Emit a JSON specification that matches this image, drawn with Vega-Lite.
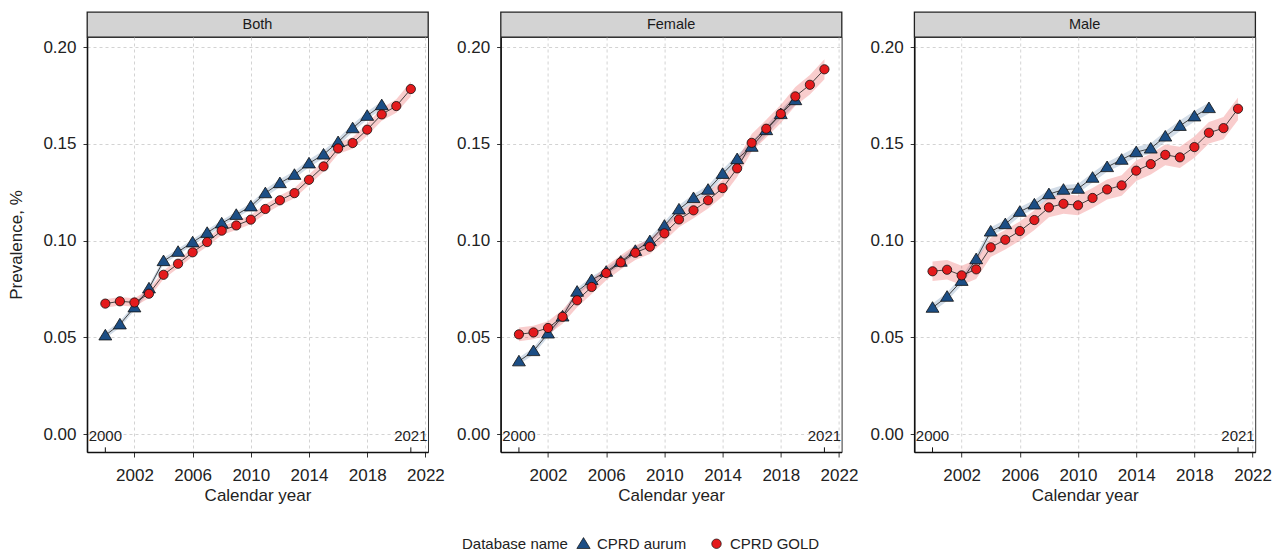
{
  "$schema": "https://vega.github.io/schema/vega-lite/v6.json",
  "padding": {"left": 7, "top": 11, "right": 5, "bottom": 5},
  "background": "white",
  "datasets": {
    "ann": [{"year": 2000, "label": "2000"}, {"year": 2021, "label": "2021"}],
    "prev": [
      {"panel":"Both","db":"CPRD aurum","year":2000,"p":0.0510,"lo":0.0494,"hi":0.0526},
      {"panel":"Both","db":"CPRD aurum","year":2001,"p":0.0567,"lo":0.0551,"hi":0.0583},
      {"panel":"Both","db":"CPRD aurum","year":2002,"p":0.0655,"lo":0.0639,"hi":0.0671},
      {"panel":"Both","db":"CPRD aurum","year":2003,"p":0.0753,"lo":0.0737,"hi":0.0769},
      {"panel":"Both","db":"CPRD aurum","year":2004,"p":0.0894,"lo":0.0878,"hi":0.0910},
      {"panel":"Both","db":"CPRD aurum","year":2005,"p":0.0942,"lo":0.0926,"hi":0.0958},
      {"panel":"Both","db":"CPRD aurum","year":2006,"p":0.0991,"lo":0.0975,"hi":0.1007},
      {"panel":"Both","db":"CPRD aurum","year":2007,"p":0.1040,"lo":0.1024,"hi":0.1056},
      {"panel":"Both","db":"CPRD aurum","year":2008,"p":0.1089,"lo":0.1073,"hi":0.1105},
      {"panel":"Both","db":"CPRD aurum","year":2009,"p":0.1133,"lo":0.1117,"hi":0.1149},
      {"panel":"Both","db":"CPRD aurum","year":2010,"p":0.1177,"lo":0.1161,"hi":0.1193},
      {"panel":"Both","db":"CPRD aurum","year":2011,"p":0.1245,"lo":0.1225,"hi":0.1265},
      {"panel":"Both","db":"CPRD aurum","year":2012,"p":0.1297,"lo":0.1277,"hi":0.1317},
      {"panel":"Both","db":"CPRD aurum","year":2013,"p":0.1340,"lo":0.1320,"hi":0.1360},
      {"panel":"Both","db":"CPRD aurum","year":2014,"p":0.1399,"lo":0.1379,"hi":0.1419},
      {"panel":"Both","db":"CPRD aurum","year":2015,"p":0.1445,"lo":0.1425,"hi":0.1465},
      {"panel":"Both","db":"CPRD aurum","year":2016,"p":0.1509,"lo":0.1489,"hi":0.1529},
      {"panel":"Both","db":"CPRD aurum","year":2017,"p":0.1581,"lo":0.1561,"hi":0.1601},
      {"panel":"Both","db":"CPRD aurum","year":2018,"p":0.1645,"lo":0.1625,"hi":0.1665},
      {"panel":"Both","db":"CPRD aurum","year":2019,"p":0.1700,"lo":0.1680,"hi":0.1720},
      {"panel":"Both","db":"CPRD GOLD","year":2000,"p":0.0674,"lo":0.0652,"hi":0.0696},
      {"panel":"Both","db":"CPRD GOLD","year":2001,"p":0.0686,"lo":0.0664,"hi":0.0708},
      {"panel":"Both","db":"CPRD GOLD","year":2002,"p":0.0680,"lo":0.0658,"hi":0.0702},
      {"panel":"Both","db":"CPRD GOLD","year":2003,"p":0.0725,"lo":0.0703,"hi":0.0747},
      {"panel":"Both","db":"CPRD GOLD","year":2004,"p":0.0823,"lo":0.0801,"hi":0.0845},
      {"panel":"Both","db":"CPRD GOLD","year":2005,"p":0.0880,"lo":0.0858,"hi":0.0902},
      {"panel":"Both","db":"CPRD GOLD","year":2006,"p":0.0939,"lo":0.0917,"hi":0.0961},
      {"panel":"Both","db":"CPRD GOLD","year":2007,"p":0.0992,"lo":0.0969,"hi":0.1015},
      {"panel":"Both","db":"CPRD GOLD","year":2008,"p":0.1051,"lo":0.1028,"hi":0.1074},
      {"panel":"Both","db":"CPRD GOLD","year":2009,"p":0.1078,"lo":0.1054,"hi":0.1102},
      {"panel":"Both","db":"CPRD GOLD","year":2010,"p":0.1108,"lo":0.1084,"hi":0.1132},
      {"panel":"Both","db":"CPRD GOLD","year":2011,"p":0.1163,"lo":0.1138,"hi":0.1188},
      {"panel":"Both","db":"CPRD GOLD","year":2012,"p":0.1208,"lo":0.1183,"hi":0.1233},
      {"panel":"Both","db":"CPRD GOLD","year":2013,"p":0.1245,"lo":0.1219,"hi":0.1271},
      {"panel":"Both","db":"CPRD GOLD","year":2014,"p":0.1314,"lo":0.1287,"hi":0.1341},
      {"panel":"Both","db":"CPRD GOLD","year":2015,"p":0.1383,"lo":0.1355,"hi":0.1411},
      {"panel":"Both","db":"CPRD GOLD","year":2016,"p":0.1476,"lo":0.1447,"hi":0.1505},
      {"panel":"Both","db":"CPRD GOLD","year":2017,"p":0.1504,"lo":0.1474,"hi":0.1534},
      {"panel":"Both","db":"CPRD GOLD","year":2018,"p":0.1573,"lo":0.1542,"hi":0.1604},
      {"panel":"Both","db":"CPRD GOLD","year":2019,"p":0.1652,"lo":0.1619,"hi":0.1685},
      {"panel":"Both","db":"CPRD GOLD","year":2020,"p":0.1695,"lo":0.1660,"hi":0.1730},
      {"panel":"Both","db":"CPRD GOLD","year":2021,"p":0.1783,"lo":0.1745,"hi":0.1821},
      {"panel":"Female","db":"CPRD aurum","year":2000,"p":0.0376,"lo":0.0358,"hi":0.0394},
      {"panel":"Female","db":"CPRD aurum","year":2001,"p":0.0429,"lo":0.0411,"hi":0.0447},
      {"panel":"Female","db":"CPRD aurum","year":2002,"p":0.0520,"lo":0.0502,"hi":0.0538},
      {"panel":"Female","db":"CPRD aurum","year":2003,"p":0.0608,"lo":0.0590,"hi":0.0626},
      {"panel":"Female","db":"CPRD aurum","year":2004,"p":0.0736,"lo":0.0718,"hi":0.0754},
      {"panel":"Female","db":"CPRD aurum","year":2005,"p":0.0796,"lo":0.0778,"hi":0.0814},
      {"panel":"Female","db":"CPRD aurum","year":2006,"p":0.0839,"lo":0.0820,"hi":0.0858},
      {"panel":"Female","db":"CPRD aurum","year":2007,"p":0.0891,"lo":0.0872,"hi":0.0910},
      {"panel":"Female","db":"CPRD aurum","year":2008,"p":0.0947,"lo":0.0928,"hi":0.0966},
      {"panel":"Female","db":"CPRD aurum","year":2009,"p":0.0997,"lo":0.0977,"hi":0.1017},
      {"panel":"Female","db":"CPRD aurum","year":2010,"p":0.1077,"lo":0.1057,"hi":0.1097},
      {"panel":"Female","db":"CPRD aurum","year":2011,"p":0.1161,"lo":0.1140,"hi":0.1182},
      {"panel":"Female","db":"CPRD aurum","year":2012,"p":0.1220,"lo":0.1199,"hi":0.1241},
      {"panel":"Female","db":"CPRD aurum","year":2013,"p":0.1263,"lo":0.1241,"hi":0.1285},
      {"panel":"Female","db":"CPRD aurum","year":2014,"p":0.1345,"lo":0.1323,"hi":0.1367},
      {"panel":"Female","db":"CPRD aurum","year":2015,"p":0.1421,"lo":0.1398,"hi":0.1444},
      {"panel":"Female","db":"CPRD aurum","year":2016,"p":0.1485,"lo":0.1461,"hi":0.1509},
      {"panel":"Female","db":"CPRD aurum","year":2017,"p":0.1571,"lo":0.1547,"hi":0.1595},
      {"panel":"Female","db":"CPRD aurum","year":2018,"p":0.1654,"lo":0.1630,"hi":0.1678},
      {"panel":"Female","db":"CPRD aurum","year":2019,"p":0.1726,"lo":0.1701,"hi":0.1751},
      {"panel":"Female","db":"CPRD GOLD","year":2000,"p":0.0515,"lo":0.0480,"hi":0.0550},
      {"panel":"Female","db":"CPRD GOLD","year":2001,"p":0.0525,"lo":0.0490,"hi":0.0560},
      {"panel":"Female","db":"CPRD GOLD","year":2002,"p":0.0548,"lo":0.0513,"hi":0.0583},
      {"panel":"Female","db":"CPRD GOLD","year":2003,"p":0.0606,"lo":0.0570,"hi":0.0642},
      {"panel":"Female","db":"CPRD GOLD","year":2004,"p":0.0691,"lo":0.0655,"hi":0.0727},
      {"panel":"Female","db":"CPRD GOLD","year":2005,"p":0.0760,"lo":0.0724,"hi":0.0796},
      {"panel":"Female","db":"CPRD GOLD","year":2006,"p":0.0832,"lo":0.0795,"hi":0.0869},
      {"panel":"Female","db":"CPRD GOLD","year":2007,"p":0.0887,"lo":0.0850,"hi":0.0924},
      {"panel":"Female","db":"CPRD GOLD","year":2008,"p":0.0937,"lo":0.0899,"hi":0.0975},
      {"panel":"Female","db":"CPRD GOLD","year":2009,"p":0.0968,"lo":0.0930,"hi":0.1006},
      {"panel":"Female","db":"CPRD GOLD","year":2010,"p":0.1037,"lo":0.0998,"hi":0.1076},
      {"panel":"Female","db":"CPRD GOLD","year":2011,"p":0.1109,"lo":0.1069,"hi":0.1149},
      {"panel":"Female","db":"CPRD GOLD","year":2012,"p":0.1156,"lo":0.1115,"hi":0.1197},
      {"panel":"Female","db":"CPRD GOLD","year":2013,"p":0.1208,"lo":0.1166,"hi":0.1250},
      {"panel":"Female","db":"CPRD GOLD","year":2014,"p":0.1271,"lo":0.1228,"hi":0.1314},
      {"panel":"Female","db":"CPRD GOLD","year":2015,"p":0.1373,"lo":0.1329,"hi":0.1417},
      {"panel":"Female","db":"CPRD GOLD","year":2016,"p":0.1505,"lo":0.1460,"hi":0.1550},
      {"panel":"Female","db":"CPRD GOLD","year":2017,"p":0.1578,"lo":0.1532,"hi":0.1624},
      {"panel":"Female","db":"CPRD GOLD","year":2018,"p":0.1655,"lo":0.1608,"hi":0.1702},
      {"panel":"Female","db":"CPRD GOLD","year":2019,"p":0.1745,"lo":0.1697,"hi":0.1793},
      {"panel":"Female","db":"CPRD GOLD","year":2020,"p":0.1805,"lo":0.1755,"hi":0.1855},
      {"panel":"Female","db":"CPRD GOLD","year":2021,"p":0.1885,"lo":0.1833,"hi":0.1937},
      {"panel":"Male","db":"CPRD aurum","year":2000,"p":0.0653,"lo":0.0631,"hi":0.0675},
      {"panel":"Male","db":"CPRD aurum","year":2001,"p":0.0710,"lo":0.0688,"hi":0.0732},
      {"panel":"Male","db":"CPRD aurum","year":2002,"p":0.0792,"lo":0.0770,"hi":0.0814},
      {"panel":"Male","db":"CPRD aurum","year":2003,"p":0.0904,"lo":0.0882,"hi":0.0926},
      {"panel":"Male","db":"CPRD aurum","year":2004,"p":0.1047,"lo":0.1025,"hi":0.1069},
      {"panel":"Male","db":"CPRD aurum","year":2005,"p":0.1085,"lo":0.1062,"hi":0.1108},
      {"panel":"Male","db":"CPRD aurum","year":2006,"p":0.1149,"lo":0.1126,"hi":0.1172},
      {"panel":"Male","db":"CPRD aurum","year":2007,"p":0.1187,"lo":0.1164,"hi":0.1210},
      {"panel":"Male","db":"CPRD aurum","year":2008,"p":0.1240,"lo":0.1216,"hi":0.1264},
      {"panel":"Male","db":"CPRD aurum","year":2009,"p":0.1263,"lo":0.1239,"hi":0.1287},
      {"panel":"Male","db":"CPRD aurum","year":2010,"p":0.1268,"lo":0.1244,"hi":0.1292},
      {"panel":"Male","db":"CPRD aurum","year":2011,"p":0.1325,"lo":0.1300,"hi":0.1350},
      {"panel":"Male","db":"CPRD aurum","year":2012,"p":0.1380,"lo":0.1355,"hi":0.1405},
      {"panel":"Male","db":"CPRD aurum","year":2013,"p":0.1418,"lo":0.1392,"hi":0.1444},
      {"panel":"Male","db":"CPRD aurum","year":2014,"p":0.1457,"lo":0.1431,"hi":0.1483},
      {"panel":"Male","db":"CPRD aurum","year":2015,"p":0.1476,"lo":0.1449,"hi":0.1503},
      {"panel":"Male","db":"CPRD aurum","year":2016,"p":0.1538,"lo":0.1511,"hi":0.1565},
      {"panel":"Male","db":"CPRD aurum","year":2017,"p":0.1593,"lo":0.1565,"hi":0.1621},
      {"panel":"Male","db":"CPRD aurum","year":2018,"p":0.1642,"lo":0.1614,"hi":0.1670},
      {"panel":"Male","db":"CPRD aurum","year":2019,"p":0.1685,"lo":0.1656,"hi":0.1714},
      {"panel":"Male","db":"CPRD GOLD","year":2000,"p":0.0841,"lo":0.0791,"hi":0.0891},
      {"panel":"Male","db":"CPRD GOLD","year":2001,"p":0.0849,"lo":0.0799,"hi":0.0899},
      {"panel":"Male","db":"CPRD GOLD","year":2002,"p":0.0820,"lo":0.0770,"hi":0.0870},
      {"panel":"Male","db":"CPRD GOLD","year":2003,"p":0.0851,"lo":0.0801,"hi":0.0901},
      {"panel":"Male","db":"CPRD GOLD","year":2004,"p":0.0965,"lo":0.0915,"hi":0.1015},
      {"panel":"Male","db":"CPRD GOLD","year":2005,"p":0.1004,"lo":0.0954,"hi":0.1054},
      {"panel":"Male","db":"CPRD GOLD","year":2006,"p":0.1049,"lo":0.0999,"hi":0.1099},
      {"panel":"Male","db":"CPRD GOLD","year":2007,"p":0.1106,"lo":0.1055,"hi":0.1157},
      {"panel":"Male","db":"CPRD GOLD","year":2008,"p":0.1171,"lo":0.1120,"hi":0.1222},
      {"panel":"Male","db":"CPRD GOLD","year":2009,"p":0.1190,"lo":0.1139,"hi":0.1241},
      {"panel":"Male","db":"CPRD GOLD","year":2010,"p":0.1182,"lo":0.1131,"hi":0.1233},
      {"panel":"Male","db":"CPRD GOLD","year":2011,"p":0.1220,"lo":0.1168,"hi":0.1272},
      {"panel":"Male","db":"CPRD GOLD","year":2012,"p":0.1264,"lo":0.1212,"hi":0.1316},
      {"panel":"Male","db":"CPRD GOLD","year":2013,"p":0.1285,"lo":0.1232,"hi":0.1338},
      {"panel":"Male","db":"CPRD GOLD","year":2014,"p":0.1361,"lo":0.1308,"hi":0.1414},
      {"panel":"Male","db":"CPRD GOLD","year":2015,"p":0.1395,"lo":0.1341,"hi":0.1449},
      {"panel":"Male","db":"CPRD GOLD","year":2016,"p":0.1443,"lo":0.1389,"hi":0.1497},
      {"panel":"Male","db":"CPRD GOLD","year":2017,"p":0.1430,"lo":0.1375,"hi":0.1485},
      {"panel":"Male","db":"CPRD GOLD","year":2018,"p":0.1483,"lo":0.1428,"hi":0.1538},
      {"panel":"Male","db":"CPRD GOLD","year":2019,"p":0.1557,"lo":0.1501,"hi":0.1613},
      {"panel":"Male","db":"CPRD GOLD","year":2020,"p":0.1581,"lo":0.1524,"hi":0.1638},
      {"panel":"Male","db":"CPRD GOLD","year":2021,"p":0.1681,"lo":0.1623,"hi":0.1739}
    ]
  },
  "hconcat": [
    {
      "vconcat": [
        {"width": 341, "height": 25, "view": {"fill": "#d3d3d3", "stroke": "#222", "strokeWidth": 1.3},
         "data": {"values": [{"label": "Both"}]},
         "mark": {"type": "text", "fontSize": 14.5, "color": "#1a1a1a", "baseline": "middle"},
         "encoding": {"text": {"field": "label"}}},
        {"width": 341, "height": 415,
         "encoding": {"x": {"field": "year", "type": "quantitative", "scale": {"domain": [1998.74, 2022.18], "nice": false, "zero": false},
           "axis": {"values": [2002, 2006, 2010, 2014, 2018, 2022], "format": "d", "title": "Calendar year", "tickSize": 5, "labelPadding": 10, "titlePadding": 4}}},
         "layer": [
          {"data": {"name": "prev"}, "transform": [{"filter": "datum.panel === 'Both' && datum.db === 'CPRD aurum'"}],
           "mark": {"type": "area", "fillOpacity": 0.2, "color": "#1c4e85"},
           "encoding": {"y": {"field": "lo", "type": "quantitative", "scale": {"domain": [-0.0093, 0.2052], "nice": false, "zero": false},
             "axis": {"values": [0, 0.05, 0.1, 0.15, 0.2], "format": ".2f", "title": "Prevalence, %", "titlePadding": 17, "labelPadding": 7}},
             "y2": {"field": "hi"}}},
          {"data": {"name": "prev"}, "transform": [{"filter": "datum.panel === 'Both' && datum.db === 'CPRD GOLD'"}],
           "mark": {"type": "area", "fillOpacity": 0.22, "color": "#e41a1c"},
           "encoding": {"y": {"field": "lo", "type": "quantitative", "title": "Prevalence, %"}, "y2": {"field": "hi"}}},
          {"data": {"name": "prev"}, "transform": [{"filter": "datum.panel === 'Both'"}],
           "mark": {"type": "line", "color": "#1a1a1a", "strokeWidth": 0.8},
           "encoding": {"y": {"field": "p", "type": "quantitative", "title": "Prevalence, %"}, "detail": {"field": "db"}}},
          {"data": {"name": "prev"}, "transform": [{"filter": "datum.panel === 'Both'"}],
           "mark": {"type": "point", "filled": true, "opacity": 1, "stroke": "#111", "strokeWidth": 0.8, "size": 85},
           "encoding": {"y": {"field": "p", "type": "quantitative", "title": "Prevalence, %"},
             "color": {"field": "db", "type": "nominal", "scale": {"domain": ["CPRD aurum", "CPRD GOLD"], "range": ["#1c4e85", "#e41a1c"]},
               "legend": {"title": "Database name", "orient": "none", "legendX": 375, "legendY": 524, "direction": "horizontal", "titleOrient": "left"}},
             "shape": {"field": "db", "type": "nominal", "scale": {"domain": ["CPRD aurum", "CPRD GOLD"], "range": ["M0,-1.3L1.4,1L-1.4,1Z", "circle"]}}}},
          {"data": {"name": "ann"}, "mark": {"type": "rule", "color": "#111", "strokeWidth": 1},
           "encoding": {"y": {"datum": -0.0093, "type": "quantitative"}, "y2": {"datum": -0.0069}}},
          {"data": {"name": "ann"}, "mark": {"type": "text", "fontSize": 15, "baseline": "middle", "color": "#222"},
           "encoding": {"y": {"datum": -0.0012, "type": "quantitative"}, "text": {"field": "label"}}}
         ]}
      ], "spacing": 0, "bounds": "flush"
    },
    {
      "vconcat": [
        {"width": 341, "height": 25, "view": {"fill": "#d3d3d3", "stroke": "#222", "strokeWidth": 1.3},
         "data": {"values": [{"label": "Female"}]},
         "mark": {"type": "text", "fontSize": 14.5, "color": "#1a1a1a", "baseline": "middle"},
         "encoding": {"text": {"field": "label"}}},
        {"width": 341, "height": 415,
         "encoding": {"x": {"field": "year", "type": "quantitative", "scale": {"domain": [1998.74, 2022.18], "nice": false, "zero": false},
           "axis": {"values": [2002, 2006, 2010, 2014, 2018, 2022], "format": "d", "title": "Calendar year", "tickSize": 5, "labelPadding": 10, "titlePadding": 4}}},
         "layer": [
          {"data": {"name": "prev"}, "transform": [{"filter": "datum.panel === 'Female' && datum.db === 'CPRD aurum'"}],
           "mark": {"type": "area", "fillOpacity": 0.2, "color": "#1c4e85"},
           "encoding": {"y": {"field": "lo", "type": "quantitative", "scale": {"domain": [-0.0093, 0.2052], "nice": false, "zero": false},
             "axis": {"values": [0, 0.05, 0.1, 0.15, 0.2], "format": ".2f", "title": null, "labelPadding": 7}},
             "y2": {"field": "hi"}}},
          {"data": {"name": "prev"}, "transform": [{"filter": "datum.panel === 'Female' && datum.db === 'CPRD GOLD'"}],
           "mark": {"type": "area", "fillOpacity": 0.22, "color": "#e41a1c"},
           "encoding": {"y": {"field": "lo", "type": "quantitative", "title": null}, "y2": {"field": "hi"}}},
          {"data": {"name": "prev"}, "transform": [{"filter": "datum.panel === 'Female'"}],
           "mark": {"type": "line", "color": "#1a1a1a", "strokeWidth": 0.8},
           "encoding": {"y": {"field": "p", "type": "quantitative", "title": null}, "detail": {"field": "db"}}},
          {"data": {"name": "prev"}, "transform": [{"filter": "datum.panel === 'Female'"}],
           "mark": {"type": "point", "filled": true, "opacity": 1, "stroke": "#111", "strokeWidth": 0.8, "size": 85},
           "encoding": {"y": {"field": "p", "type": "quantitative", "title": null},
             "color": {"field": "db", "type": "nominal", "scale": {"domain": ["CPRD aurum", "CPRD GOLD"], "range": ["#1c4e85", "#e41a1c"]},
               "legend": {"title": "Database name", "orient": "none", "legendX": 375, "legendY": 524, "direction": "horizontal", "titleOrient": "left"}},
             "shape": {"field": "db", "type": "nominal", "scale": {"domain": ["CPRD aurum", "CPRD GOLD"], "range": ["M0,-1.3L1.4,1L-1.4,1Z", "circle"]}}}},
          {"data": {"name": "ann"}, "mark": {"type": "rule", "color": "#111", "strokeWidth": 1},
           "encoding": {"y": {"datum": -0.0093, "type": "quantitative"}, "y2": {"datum": -0.0069}}},
          {"data": {"name": "ann"}, "mark": {"type": "text", "fontSize": 15, "baseline": "middle", "color": "#222"},
           "encoding": {"y": {"datum": -0.0012, "type": "quantitative"}, "text": {"field": "label"}}}
         ]}
      ], "spacing": 0, "bounds": "flush"
    },
    {
      "vconcat": [
        {"width": 341, "height": 25, "view": {"fill": "#d3d3d3", "stroke": "#222", "strokeWidth": 1.3},
         "data": {"values": [{"label": "Male"}]},
         "mark": {"type": "text", "fontSize": 14.5, "color": "#1a1a1a", "baseline": "middle"},
         "encoding": {"text": {"field": "label"}}},
        {"width": 341, "height": 415,
         "encoding": {"x": {"field": "year", "type": "quantitative", "scale": {"domain": [1998.74, 2022.18], "nice": false, "zero": false},
           "axis": {"values": [2002, 2006, 2010, 2014, 2018, 2022], "format": "d", "title": "Calendar year", "tickSize": 5, "labelPadding": 10, "titlePadding": 4}}},
         "layer": [
          {"data": {"name": "prev"}, "transform": [{"filter": "datum.panel === 'Male' && datum.db === 'CPRD aurum'"}],
           "mark": {"type": "area", "fillOpacity": 0.2, "color": "#1c4e85"},
           "encoding": {"y": {"field": "lo", "type": "quantitative", "scale": {"domain": [-0.0093, 0.2052], "nice": false, "zero": false},
             "axis": {"values": [0, 0.05, 0.1, 0.15, 0.2], "format": ".2f", "title": null, "labelPadding": 7}},
             "y2": {"field": "hi"}}},
          {"data": {"name": "prev"}, "transform": [{"filter": "datum.panel === 'Male' && datum.db === 'CPRD GOLD'"}],
           "mark": {"type": "area", "fillOpacity": 0.22, "color": "#e41a1c"},
           "encoding": {"y": {"field": "lo", "type": "quantitative", "title": null}, "y2": {"field": "hi"}}},
          {"data": {"name": "prev"}, "transform": [{"filter": "datum.panel === 'Male'"}],
           "mark": {"type": "line", "color": "#1a1a1a", "strokeWidth": 0.8},
           "encoding": {"y": {"field": "p", "type": "quantitative", "title": null}, "detail": {"field": "db"}}},
          {"data": {"name": "prev"}, "transform": [{"filter": "datum.panel === 'Male'"}],
           "mark": {"type": "point", "filled": true, "opacity": 1, "stroke": "#111", "strokeWidth": 0.8, "size": 85},
           "encoding": {"y": {"field": "p", "type": "quantitative", "title": null},
             "color": {"field": "db", "type": "nominal", "scale": {"domain": ["CPRD aurum", "CPRD GOLD"], "range": ["#1c4e85", "#e41a1c"]},
               "legend": {"title": "Database name", "orient": "none", "legendX": 375, "legendY": 524, "direction": "horizontal", "titleOrient": "left"}},
             "shape": {"field": "db", "type": "nominal", "scale": {"domain": ["CPRD aurum", "CPRD GOLD"], "range": ["M0,-1.3L1.4,1L-1.4,1Z", "circle"]}}}},
          {"data": {"name": "ann"}, "mark": {"type": "rule", "color": "#111", "strokeWidth": 1},
           "encoding": {"y": {"datum": -0.0093, "type": "quantitative"}, "y2": {"datum": -0.0069}}},
          {"data": {"name": "ann"}, "mark": {"type": "text", "fontSize": 15, "baseline": "middle", "color": "#222"},
           "encoding": {"y": {"datum": -0.0012, "type": "quantitative"}, "text": {"field": "label"}}}
         ]}
      ], "spacing": 0, "bounds": "flush"
    }
  ],
  "spacing": 10.6,
  "resolve": {"scale": {"color": "shared", "shape": "shared"}, "legend": {"color": "shared", "shape": "shared"}},
  "config": {
    "font": "Liberation Sans",
    "view": {"stroke": "#333", "strokeWidth": 1, "fill": "white"},
    "axis": {"gridColor": "#c8c8c8", "gridDash": [3, 3], "gridWidth": 0.8, "domainColor": "#111", "domainWidth": 1.6, "tickColor": "#333", "tickSize": 4, "labelFontSize": 17, "labelColor": "#222", "titleFontSize": 17, "titleFontWeight": "normal", "titleColor": "#222"},
    "legend": {"titleFontSize": 15, "titleFontWeight": "normal", "titleColor": "#222", "labelFontSize": 15, "labelColor": "#222", "symbolSize": 90, "symbolStrokeColor": "#111", "symbolStrokeWidth": 0.7, "columnPadding": 22, "labelOffset": 6, "titlePadding": 8, "titleBaseline": "middle"}
  }
}
